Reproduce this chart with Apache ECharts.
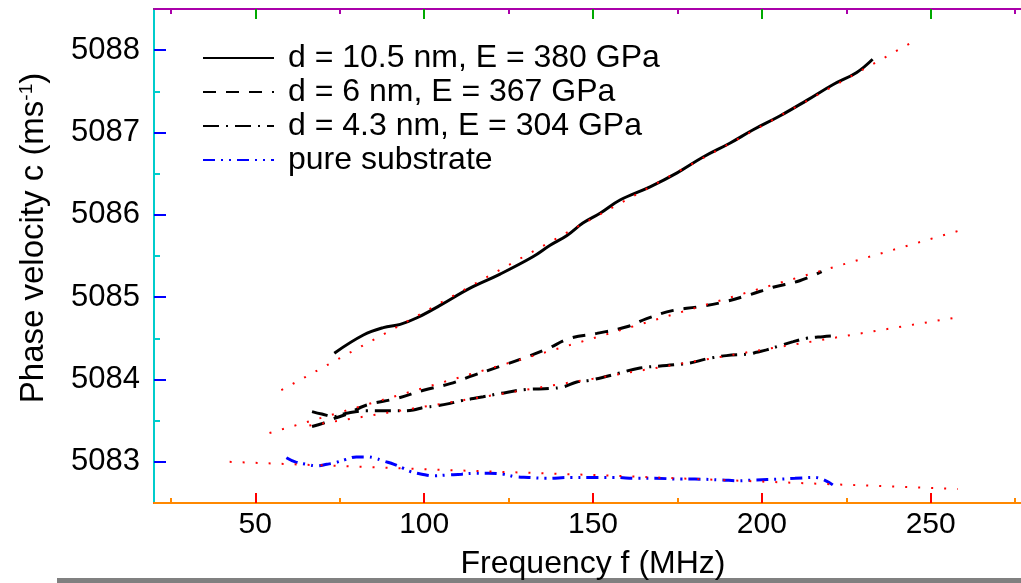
<!DOCTYPE html>
<html>
<head>
<meta charset="utf-8">
<script src="https://cdn.jsdelivr.net/npm/echarts@6/dist/echarts.min.js"></script>
<style>
html,body{margin:0;padding:0;background:#fff;overflow:hidden;}
#chart{width:1021px;height:583px;}
</style>
</head>
<body>
<div id="chart"></div>
<script>
// ---------- data ----------
const seriesNames = ['d = 10.5 nm, E = 380 GPa', 'd = 6 nm, E = 367 GPa', 'd = 4.3 nm, E = 304 GPa', 'pure substrate'];

const freq1 = [73.4, 82.0, 87.9, 92.9, 97.9, 104.7, 113.6, 122.5, 132.2, 137.3, 142.3, 147.0, 152.1, 158.0, 166.9, 174.9, 182.5, 190.5, 197.3, 205.3, 213.3, 221.0, 228.1, 232.8];
const vel1  = [5084.32, 5084.54, 5084.63, 5084.67, 5084.75, 5084.90, 5085.11, 5085.28, 5085.49, 5085.63, 5085.75, 5085.90, 5086.02, 5086.18, 5086.34, 5086.51, 5086.70, 5086.87, 5087.03, 5087.20, 5087.39, 5087.58, 5087.73, 5087.89];

const freq2 = [66.8, 70.2, 73.0, 77.1, 83.0, 91.9, 99.8, 107.7, 114.6, 122.5, 129.4, 136.3, 143.2, 151.1, 160.0, 165.9, 173.8, 180.7, 188.6, 196.4, 203.3, 211.2, 217.7];
const vel2  = [5083.43, 5083.47, 5083.52, 5083.58, 5083.69, 5083.77, 5083.87, 5083.95, 5084.05, 5084.16, 5084.26, 5084.37, 5084.50, 5084.56, 5084.64, 5084.74, 5084.84, 5084.88, 5084.94, 5085.03, 5085.12, 5085.20, 5085.31];

const freq3 = [66.8, 69.7, 73.2, 77.0, 83.0, 88.0, 93.9, 96.8, 99.8, 103.8, 107.7, 110.7, 117.5, 122.5, 130.4, 137.0, 141.2, 145.2, 149.1, 158.0, 163.9, 171.8, 178.7, 183.6, 189.5, 196.4, 198.4, 201.4, 205.3, 209.3, 213.2, 218.1, 221.6];
const vel3  = [5083.61, 5083.58, 5083.55, 5083.59, 5083.62, 5083.62, 5083.62, 5083.63, 5083.66, 5083.68, 5083.71, 5083.74, 5083.79, 5083.83, 5083.88, 5083.89, 5083.91, 5083.97, 5083.99, 5084.08, 5084.14, 5084.17, 5084.20, 5084.25, 5084.29, 5084.31, 5084.33, 5084.36, 5084.41, 5084.46, 5084.50, 5084.52, 5084.53];

const freq4 = [59.2, 61.8, 65.1, 68.3, 71.2, 73.7, 76.9, 79.9, 83.0, 85.0, 88.0, 91.1, 93.9, 96.1, 99.3, 102.8, 106.7, 111.1, 114.4, 119.0, 123.5, 126.9, 130.9, 135.8, 143.7, 148.6, 156.0, 163.4, 168.3, 176.2, 180.2, 188.1, 193.0, 197.9, 205.3, 209.8, 215.7, 221.0];
const vel4  = [5083.05, 5083.00, 5082.97, 5082.95, 5082.97, 5082.99, 5083.03, 5083.06, 5083.06, 5083.05, 5083.01, 5082.97, 5082.92, 5082.88, 5082.85, 5082.83, 5082.84, 5082.85, 5082.86, 5082.86, 5082.85, 5082.82, 5082.81, 5082.80, 5082.81, 5082.81, 5082.81, 5082.80, 5082.80, 5082.79, 5082.79, 5082.78, 5082.77, 5082.78, 5082.79, 5082.80, 5082.81, 5082.72];

// red dotted fits
const fitFreq1 = [57.7, 100, 150, 200, 246.4];
const fitVel1  = [5083.87, 5084.82, 5085.96, 5087.08, 5088.14];
const fitFreq2 = [54.2, 100, 150, 200, 258.6];
const fitVel2  = [5083.35, 5083.90, 5084.50, 5085.11, 5085.81];
const fitFreq3 = [66.0, 100, 150, 200, 258.6];
const fitVel3  = [5083.44, 5083.67, 5084.01, 5084.36, 5084.76];
const fitFreq4 = [42.4, 100, 150, 200, 258.0];
const fitVel4  = [5083.00, 5082.91, 5082.84, 5082.76, 5082.67];

const xMajorTicks = [50, 100, 150, 200, 250];
const xMinorTicks = [25, 75, 125, 175, 225, 275];
const yMajorTicks = [5083, 5084, 5085, 5086, 5087, 5088];
const yMinorTicks = [5083.5, 5084.5, 5085.5, 5086.5, 5087.5];

const xTitle = 'Frequency f (MHz)';
const yTitle = 'Phase velocity c (ms{sup|-1})';

// ---------- chart ----------
const FONT = '"Liberation Sans", Arial, sans-serif';
const pair = (a, b) => a.map((v, i) => [v, b[i]]);
const X_MIN = 20, X_MAX = 280, Y_MIN = 5082.5, Y_MAX = 5088.5;
const gridRect = {left: 154, top: 9, width: 878, height: 494, outerBoundsMode: 'none', containLabel: false};

function xAx(gridIndex, position, ticks, len, labels, name, color) {
  return {
    type: 'value', gridIndex, position, min: X_MIN, max: X_MAX,
    axisLine: {show: true, onZero: false, lineStyle: {color, width: 2}},
    axisTick: {show: true, inside: true, length: len, customValues: ticks, lineStyle: {color, width: 2}},
    axisLabel: labels ? {show: true, customValues: labels, color: '#000', fontSize: 30, fontFamily: FONT, margin: 7, formatter: v => String(v)} : {show: false},
    splitLine: {show: false},
    name: name || '', nameLocation: 'middle', nameGap: 45,
    nameTextStyle: {color: '#000', fontSize: 32, fontFamily: FONT}
  };
}
function yAx(gridIndex, position, ticks, len, labels, name, color) {
  return {
    type: 'value', gridIndex, position, min: Y_MIN, max: Y_MAX,
    axisLine: {show: true, onZero: false, lineStyle: {color, width: 2}},
    axisTick: {show: true, inside: true, length: len, customValues: ticks, lineStyle: {color, width: 2}},
    axisLabel: labels ? {show: true, customValues: labels, color: '#000', fontSize: 31, fontFamily: FONT, margin: 14, formatter: v => String(v)} : {show: false},
    splitLine: {show: false},
    name: name || '', nameLocation: 'middle', nameGap: 104, nameRotate: 90,
    nameTextStyle: {color: '#000', fontSize: 33, fontFamily: FONT, padding: [0, 0, 0, 36],
      rich: {sup: {fontSize: 19, fontFamily: FONT, color: '#000', verticalAlign: 'top', padding: [0, 0, 14, 0]}}}
  };
}

const chart = echarts.init(document.getElementById('chart'), null, {renderer: 'canvas'});
const redFit = (f, v) => ({
  type: 'line', data: pair(f, v), xAxisIndex: 0, yAxisIndex: 0, showSymbol: false, symbol: 'none',
  lineStyle: {color: '#ff0000', width: 2, type: [2, 11]}, z: 5, silent: true
});
chart.setOption({
  animation: false,
  backgroundColor: '#fff',
  grid: [Object.assign({}, gridRect), Object.assign({}, gridRect)],
  xAxis: [
    xAx(0, 'bottom', xMajorTicks, 10, xMajorTicks, xTitle, '#ff0000'),
    xAx(0, 'top', xMajorTicks, 10, null, '', '#00aa00'),
    xAx(1, 'bottom', xMinorTicks, 5, null, '', '#ff8800'),
    xAx(1, 'top', xMinorTicks, 5, null, '', '#aa00aa')
  ],
  yAxis: [
    yAx(0, 'left', yMajorTicks, 12, yMajorTicks, yTitle, '#0000ff'),
    yAx(1, 'left', yMinorTicks, 6, null, '', '#00cccc')
  ],
  legend: {
    data: seriesNames, orient: 'vertical', left: 197, top: 36,
    itemWidth: 71, itemHeight: 20, itemGap: 0,
    itemStyle: {opacity: 0},
    textStyle: {color: '#000', fontSize: 32, fontFamily: FONT, lineHeight: 34, padding: [0, 0, 0, 9]}
  },
  series: [
    {name: seriesNames[0], type: 'line', data: pair(freq1, vel1), smooth: 0.4, showSymbol: false, symbol: 'none',
     lineStyle: {color: '#000', width: 3, type: 'solid'}, itemStyle: {color: '#000'}},
    {name: seriesNames[1], type: 'line', data: pair(freq2, vel2), smooth: 0.4, showSymbol: false, symbol: 'none',
     lineStyle: {color: '#000', width: 3, type: [13, 10]}, itemStyle: {color: '#000'}},
    {name: seriesNames[2], type: 'line', data: pair(freq3, vel3), smooth: 0.4, showSymbol: false, symbol: 'none',
     lineStyle: {color: '#000', width: 3, type: [16, 7, 2, 7]}, itemStyle: {color: '#000'}},
    {name: seriesNames[3], type: 'line', data: pair(freq4, vel4), smooth: 0.4, showSymbol: false, symbol: 'none',
     lineStyle: {color: '#0000ff', width: 3, type: [12, 6, 2, 6, 2, 6]}, itemStyle: {color: '#0000ff'}},
    redFit(fitFreq1, fitVel1),
    redFit(fitFreq2, fitVel2),
    redFit(fitFreq3, fitVel3),
    redFit(fitFreq4, fitVel4)
  ],
  graphic: [
    {type: 'rect', left: 57, top: 578, shape: {width: 964, height: 5}, style: {fill: '#808080'}, silent: true}
  ]
});
</script>
</body>
</html>
